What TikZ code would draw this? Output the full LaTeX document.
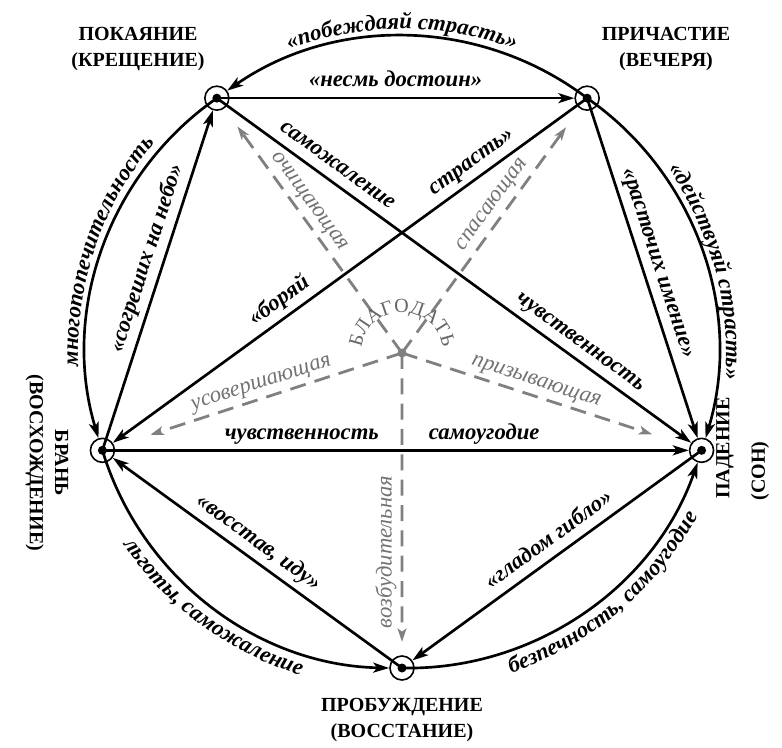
\documentclass[tikz,border=0pt]{standalone}
\usepackage{fontspec}
\setmainfont{Liberation Serif}
\usetikzlibrary{arrows.meta,decorations.text,calc}
\definecolor{gr}{gray}{0.5}
\definecolor{grtxt}{gray}{0.45}
\definecolor{grgrace}{gray}{0.4}
\newcommand\lblf{\fontsize{17}{20}\selectfont\bfseries\itshape}
\begin{document}
\begin{tikzpicture}[x=0.75pt,y=0.75pt,
  bedge/.style={line width=2pt, -{Stealth[length=12pt,width=7.5pt,inset=3pt]}},
  redge/.style={line width=2pt, {Stealth[length=12pt,width=7.5pt,inset=3pt]}-},
  gedge/.style={draw=gr, line width=2.1pt, dash pattern=on 12pt off 7pt, -{Stealth[length=10pt,width=6.5pt,inset=2.5pt]}},
  vmark/.style={circle, draw, line width=1.2pt, minimum size=18pt, inner sep=0pt},
  lbl/.style={font=\lblf, inner sep=1pt, text height=11pt, text depth=4pt, above=2.5pt},
  glbl/.style={font=\fontsize{17}{20}\selectfont\itshape, text=grtxt, inner sep=1pt, text height=11pt, text depth=4pt, above=2.5pt},
  captxt/.style={font=\fontsize{15}{19}\selectfont\bfseries, align=center, inner sep=0pt},
  arclbl/.style={decorate, decoration={text along path, text align=center, text={|\lblf|#1}}},
]
\fill[white] (0,0) rectangle (782,747);
\useasboundingbox (0,0) rectangle (782,747);
\coordinate (C) at (402,394);
\node[vmark] (TL) at ($(C)+(126:315)$) {};
\node[vmark] (TR) at ($(C)+(54:315)$) {};
\node[vmark] (L) at ($(C)+(198:315)$) {};
\node[vmark] (R) at ($(C)+(-18:315)$) {};
\node[vmark] (B) at ($(C)+(270:315)$) {};
\foreach \n in {TL,TR,L,R,B} \fill (\n) circle[radius=4.5];

% vertex titles
\node[captxt] (nTL) at (138,698) {ПОКАЯНИЕ\\(КРЕЩЕНИЕ)};
\node[captxt] (nTR) at (666,698) {ПРИЧАСТИЕ\\(ВЕЧЕРЯ)};
\node[captxt] (nB) at (402,27) {ПРОБУЖДЕНИЕ\\(ВОССТАНИЕ)};
\node[captxt, rotate=-90] (nL) at (47,284) {БРАНЬ\\(ВОСХОЖДЕНИЕ)};
\node[captxt, rotate=90] (nR1) at (725,299) {ПАДЕНИЕ};
\node[captxt, rotate=90] (nR2) at (760,276) {(СОН)};

% grace (dashed, gray)
\coordinate (gTL) at ($(C)!0.889!(TL)$);
\coordinate (gTR) at ($(C)!0.886!(TR)$);
\coordinate (gL) at ($(C)!0.84!(L)$);
\coordinate (gR) at ($(C)!0.835!(R)$);
\coordinate (gB) at ($(C)!0.917!(B)$);
\foreach \t in {gTL,gTR,gL,gR,gB} \draw[gedge] (C) -- (\t);
\fill[gr] (C) circle[radius=4.5];
\path (gTL) -- (C) node[glbl, sloped, pos=0.369] {очищающая};
\path (C) -- (gTR) node[glbl, sloped, pos=0.62] {спасающая};
\path (gL) -- (C) node[glbl, sloped, pos=0.459] {усовершающая};
\path (C) -- (gR) node[glbl, sloped, pos=0.519] {призывающая};
\path (gB) -- (C) node[glbl, sloped, pos=0.311] {возбудительная};
\path[decorate, decoration={text along path, text align=center, text color=grgrace,
   text={|\fontsize{15}{17}\selectfont|БЛАГОДАТЬ}}]
   ([shift={(172:41)}]C) arc[start angle=172, end angle=8, radius=41];

% straight connectors
\draw[bedge] (TL.center) -- (TR) node[lbl, midway] {«несмь достоин»};
\draw[bedge] (TR.center) -- (R) node[lbl, sloped, pos=0.5] {«расточих имение»};
\draw[redge] (L) -- (TR.center)
   node[lbl, sloped, pos=0.372] {«боряй}
   node[lbl, sloped, pos=0.776] {страсть»};
\draw[bedge] (TL.center) -- (R)
   node[lbl, sloped, pos=0.234] {саможаление}
   node[lbl, sloped, pos=0.746] {чувственность};
\draw[bedge] (L.center) -- (TL) node[lbl, sloped, pos=0.549] {«согреших на небо»};
\draw[bedge] (L.center) -- (R)
   node[lbl, pos=0.34] {чувственность}
   node[lbl, pos=0.651] {самоугодие};
\draw[redge] (L) -- (B.center) node[lbl, sloped, pos=0.469] {«восстав, иду»};
\draw[redge] (B) -- (R.center) node[lbl, sloped, pos=0.507] {«гладом гибло»};

% arcs along the circle
\draw[bedge] (TR.center) to[bend right=36, looseness=0.94] (TL);
\draw[bedge] (TR.center) to[bend left=36, looseness=0.94] (R);
\draw[bedge] (TL.center) to[bend right=36, looseness=0.94] (L);
\draw[bedge] (L.center) to[bend right=36, looseness=0.94] (B);
\draw[bedge] (B.center) to[bend right=36, looseness=0.94] (R);

% arc labels
\path[arclbl={«побеждаяй страсть»}] ([shift={(125:324)}]C) arc[start angle=125, end angle=55, radius=324];
\path[arclbl={«действуяй страсть»}] ([shift={(50:324)}]C) arc[start angle=50, end angle=-20, radius=324];
\path[arclbl={многопопечительность}] ([shift={(196:324)}]C) arc[start angle=196, end angle=126, radius=324];
\path[arclbl={льготы, саможаление}] ([shift={(198.5:338)}]C) arc[start angle=198.5, end angle=268.5, radius=338];
\path[arclbl={безпечность, самоугодие}] ([shift={(275:338)}]C) arc[start angle=275, end angle=345, radius=338];
\end{tikzpicture}
\end{document}
